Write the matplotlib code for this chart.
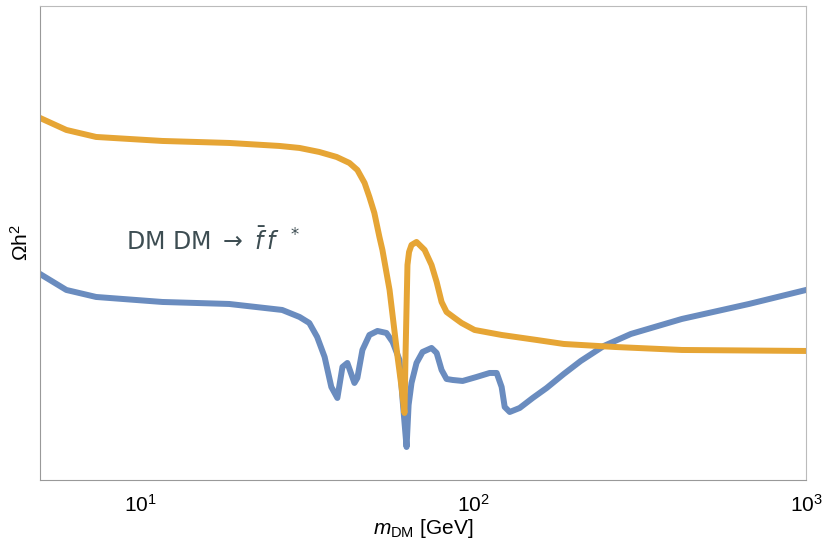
import numpy as np
import matplotlib
matplotlib.use("Agg")
import matplotlib.pyplot as plt

plt.rcParams['font.family'] = ['Liberation Sans', 'DejaVu Sans']
plt.rcParams['mathtext.fontset'] = 'custom'
plt.rcParams['mathtext.rm'] = 'Liberation Sans'
plt.rcParams['mathtext.it'] = 'Liberation Sans:italic'
plt.rcParams['mathtext.sf'] = 'Liberation Sans'

# relic abundance, arbitrary units (no y ticks in the original)
m_orange = [5.0, 6.0, 7.37, 11.65, 18.5, 26.2, 30.1, 34.5, 38.9, 42.5, 44.9,
            47.2, 48.8, 50.5, 52.3, 53.4, 56.1, 59.3, 61.0, 62.2, 62.7, 63.5,
            64.2, 65.3, 67.6, 71.5, 75.0, 77.7, 80.4, 83.2, 88.0, 92.3, 101.0,
            121.8, 155.2, 187.2, 266.5, 423.6, 1000.0]
om_orange = [362, 350, 343, 339, 337, 334, 332, 328, 323, 317, 310,
             297, 283, 267, 243, 230, 190, 123, 92, 67, 130, 215,
             228, 235, 238, 230, 215, 198, 178, 168, 162, 157, 150,
             145, 140, 136, 133, 130, 129]

m_blue = [5.0, 6.0, 7.37, 11.65, 18.5, 26.7, 30.1, 32.2, 34.0, 35.8, 37.5,
          39.1, 40.5, 41.9, 44.0, 44.9, 46.5, 48.8, 51.6, 54.9, 57.3, 60.1,
          61.4, 63.1, 64.0, 65.3, 67.6, 70.5, 75.0, 77.7, 80.4, 83.2, 86.8,
          93.0, 102.4, 112.1, 117.7, 121.8, 124.4, 128.8, 138.0, 151.0, 166.3,
          187.2, 210.5, 246.9, 297.7, 423.6, 674.0, 1000.0]
om_blue = [206, 190, 183, 178, 176, 170, 163, 157, 143, 123, 93,
           82, 113, 117, 97, 102, 130, 145, 149, 147, 138, 120,
           80, 33, 75, 97, 117, 128, 132, 127, 110, 101, 100,
           99, 103, 107, 107, 93, 73, 68, 72, 82, 92,
           106, 119, 134, 146, 161, 176, 190]

fig = plt.figure(figsize=(8.25, 5.41), dpi=100)
ax = fig.add_axes([0.0485, 0.1128, 0.9285, 0.8762])

ax.plot(m_blue, om_blue, color='#6A8CBF', linewidth=4.3, solid_joinstyle='round')
ax.plot(m_orange, om_orange, color='#E6A535', linewidth=4.3, solid_joinstyle='round')

ax.set_xscale('log')
ax.set_xlim(5, 1000)
ax.set_ylim(0, 474)
ax.set_yticks([])
ax.tick_params(axis='x', which='both', length=0, labelsize=15, pad=10)
ax.minorticks_off()

for side in ['left', 'bottom']:
    ax.spines[side].set_color('#999999')
for side in ['top', 'right']:
    ax.spines[side].set_color('#bbbbbb')

ax.set_xlabel(r'$m_{\mathrm{DM}}$ [GeV]', fontsize=15, labelpad=1)
ax.set_ylabel(r'$\Omega$h$^2$', fontsize=15, labelpad=6)

ax.text(9.08, 239, r'DM DM $\rightarrow\ \bar{f}\, f\ \ ^{*}$', fontsize=17,
        color='#3d4d52', va='center', ha='left', family=['DejaVu Sans'],
        math_fontfamily='dejavusans')

fig.savefig('out.png', dpi=100)
